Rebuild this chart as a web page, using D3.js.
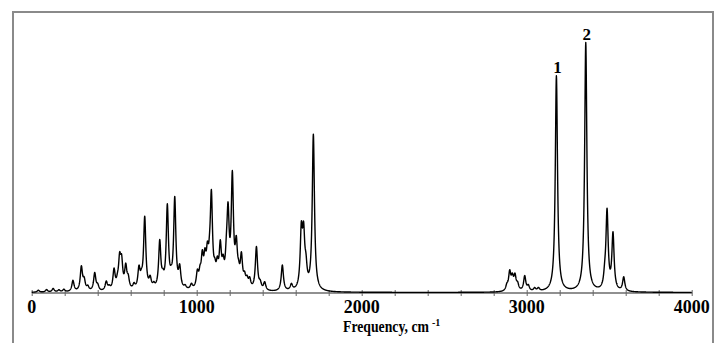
<!DOCTYPE html>
<html>
<head>
<meta charset="utf-8">
<script src="https://cdnjs.cloudflare.com/ajax/libs/d3/7.8.5/d3.min.js"></script>
<style>
  body { margin: 0; background: #fff; }
  svg { display: block; }
</style>
</head>
<body>
<div id="chart"></div>
<script>
// Band positions (cm-1) and intensities
var bandFreq = [40, 90, 130, 165, 195, 250, 301, 318, 340, 382, 400, 452, 470, 499, 520, 533, 545, 570, 585, 620,
  650, 665, 685, 718, 740, 776, 795, 822, 845, 867, 897, 930, 968, 1004, 1020, 1034, 1050, 1065, 1078, 1089,
  1110, 1125, 1143, 1160, 1180, 1190, 1216, 1240, 1254, 1271, 1290, 1305, 1321, 1362, 1385, 1412, 1519, 1574,
  1634, 1648, 1662, 1707,
  2880, 2897, 2913, 2929, 2945, 2988, 3010, 3048, 3071, 3180, 3358, 3473, 3487, 3523, 3588];
var bandInt = [2, 2.5, 3.5, 2, 2.5, 11, 24, 10, 4, 18, 5, 9, 3, 20, 6, 28, 25, 22, 10, 5,
  20, 8, 72, 10, 4, 47, 8, 82, 6, 90, 20, 3, 5, 15, 12, 28, 25, 28, 15, 88,
  12, 18, 38, 18, 20, 68, 108, 38, 10, 30, 10, 8, 9, 43, 6, 8, 26, 6,
  55, 50, 18, 156,
  5, 18, 12, 14, 6, 15, 5, 3, 3, 216, 249, 10, 78, 56, 14];
var bandWidth = 8; // half width, cm-1

var tickValues = [0, 1000, 2000, 3000, 4000];
var peakLabels = ["1", "2"];
var peakLabelFreq = [3180, 3358];

var W = 714, H = 343;
var serif = "'Liberation Serif', 'Times New Roman', serif";
var svg = d3.select("#chart").append("svg")
    .attr("width", W)
    .attr("height", H);

// Frame
svg.append("rect")
    .attr("x", 13).attr("y", 12)
    .attr("width", 700).attr("height", 345)
    .attr("fill", "none")
    .attr("stroke", "#8a8a8a")
    .attr("stroke-width", 2);

var x = d3.scaleLinear().domain([0, 4000]).range([31.7, 691.7]);
var y = d3.scaleLinear().domain([0, 260]).range([292.5, 32.5]);

// Lorentzian broadened spectrum
var spectrum = [];
for (var f = 0; f <= 4000; f += 1) {
  var s = 0;
  for (var i = 0; i < bandFreq.length; i++) {
    var d = (f - bandFreq[i]) / bandWidth;
    s += bandInt[i] / (1 + d * d);
  }
  spectrum.push({ f: f, v: s });
}

// X axis
var axis = svg.append("g")
    .attr("transform", "translate(0," + y(0) + ")")
    .call(d3.axisBottom(x).tickValues(d3.range(0, 4001, 200)).tickSize(0).tickFormat(""));
axis.select(".domain").attr("stroke", "#222").attr("stroke-width", 1.2);
axis.selectAll(".tick line")
    .attr("y1", -2.5).attr("y2", 3.5)
    .attr("stroke", "#666");

svg.append("g").selectAll("text")
    .data(tickValues)
    .join("text")
    .attr("x", function (d) { return x(d); })
    .attr("y", 313)
    .attr("text-anchor", "middle")
    .style("font-family", serif)
    .style("font-weight", "bold")
    .style("font-size", "18px")
    .text(function (d) { return d; });

// Axis title (condensed to the reference width)
var title = svg.append("text")
    .style("font-family", serif)
    .style("font-weight", "bold")
    .style("font-size", "16px")
    .text("Frequency, cm");
var k = 86 / title.node().getComputedTextLength();
title.attr("transform", "translate(343,332) scale(" + k + ",1)");

svg.append("text")
    .attr("x", 432)
    .attr("y", 326)
    .style("font-family", serif)
    .style("font-weight", "bold")
    .style("font-size", "10px")
    .text("-1");

// Spectrum line
svg.append("path")
    .datum(spectrum)
    .attr("fill", "none")
    .attr("stroke", "#000")
    .attr("stroke-width", 1.4)
    .attr("stroke-linejoin", "round")
    .attr("d", d3.line()
      .x(function (d) { return x(d.f); })
      .y(function (d) { return y(d.v); }));

// Peak labels
svg.append("g").selectAll("text")
    .data(peakLabels)
    .join("text")
    .attr("x", function (d, i) { return x(peakLabelFreq[i]) + 1; })
    .attr("y", function (d, i) {
      var v = spectrum[peakLabelFreq[i]].v;
      return y(v) - 3;
    })
    .attr("text-anchor", "middle")
    .style("font-family", serif)
    .style("font-weight", "bold")
    .style("font-size", "17px")
    .text(function (d) { return d; });
</script>
</body>
</html>
